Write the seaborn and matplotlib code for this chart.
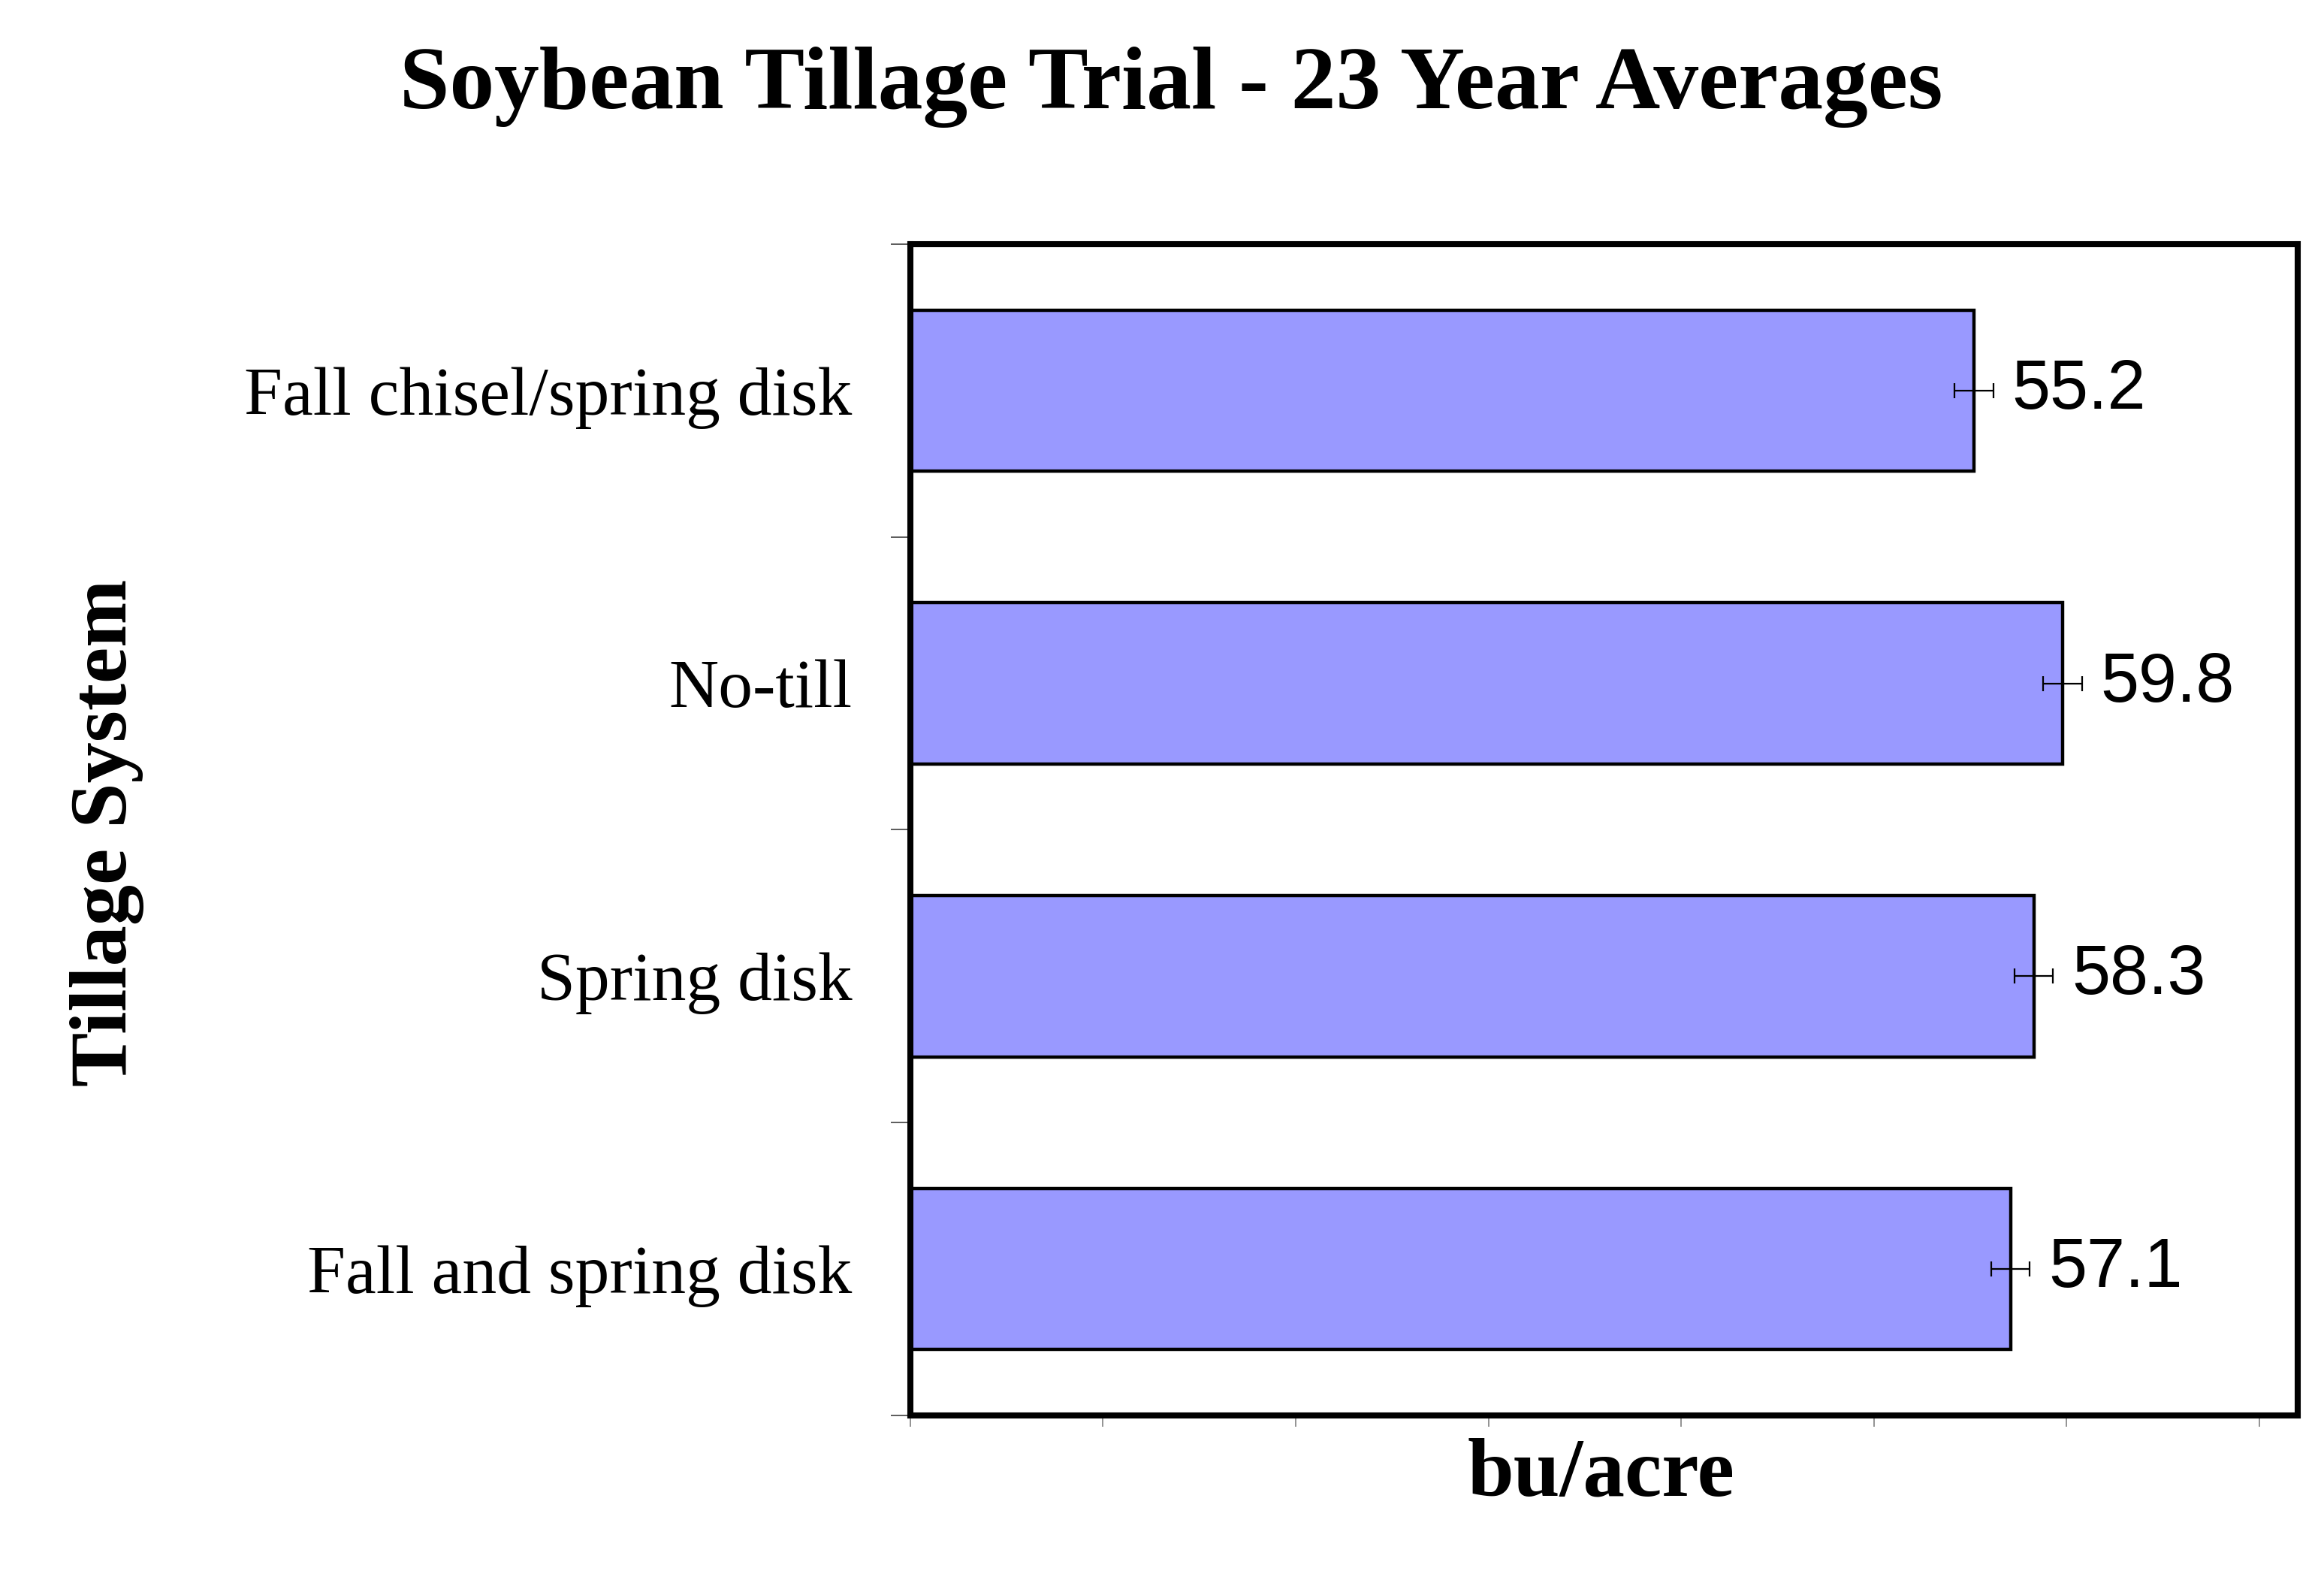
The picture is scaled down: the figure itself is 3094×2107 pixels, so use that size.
"""
Soybean tillage trial - horizontal bar chart of 23 year average yields.
"""

import numpy as np
import pandas as pd
import matplotlib
matplotlib.use('Agg')
import matplotlib.pyplot as plt
import seaborn as sns

# data
systems = ['Fall chisel/spring disk', 'No-till', 'Spring disk', 'Fall and spring disk']
yields = [55.2, 59.8, 58.3, 57.1]
errors = [1.0, 1.0, 1.0, 1.0]
x_ticks = [0, 10, 20, 30, 40, 50, 60, 70]

df = pd.DataFrame({'system': systems, 'yield': yields})

sns.set_style('white')
plt.rcParams['text.color'] = 'black'
plt.rcParams['ytick.labelcolor'] = 'black'
serif = ['Liberation Serif', 'DejaVu Serif']
sans = ['Liberation Sans', 'DejaVu Sans']

fig = plt.figure(figsize=(15.47, 10.535), dpi=200)
fig.subplots_adjust(left=0.3917, right=0.9887, top=0.8458, bottom=0.1058)
ax = fig.add_subplot(111)

sns.barplot(data=df, x='yield', y='system', order=systems, orient='h',
            color='#9999FF', saturation=1, width=0.55, edgecolor='black',
            linewidth=1.6, errorbar=None, ax=ax)

# error bars and value labels
ypos = np.arange(len(systems))
ax.errorbar(yields, ypos, xerr=errors, fmt='none', ecolor='black',
            elinewidth=0.8, capsize=3.6, capthick=0.8, zorder=5)
for y, v, e in zip(ypos, yields, errors):
    ax.annotate(f'{v:.1f}', xy=(v + e, y), xytext=(9, 0),
                textcoords='offset points', ha='left', va='center',
                fontsize=33, family=sans, color='black')

ax.set_xlim(0, 72)
ax.set_ylim(len(systems) - 0.5, -0.5)

# x ticks: grey, unlabeled
ax.set_xticks(x_ticks)
ax.set_xticklabels([])
ax.tick_params(axis='x', which='major', direction='out', length=5.4,
               width=0.6, color='#808080', bottom=True)

# y: labels at category centres, ticks at category boundaries
ax.set_yticks(ypos)
ax.set_yticklabels(systems, family=serif, fontsize=33, color='black')
ax.tick_params(axis='y', which='major', length=0, pad=28, left=True)
ax.set_yticks(np.arange(-0.5, len(systems)), minor=True)
ax.tick_params(axis='y', which='minor', direction='out', length=9.4,
               width=0.6, color='#404040', left=True)

ax.set_xlabel('')
ax.set_ylabel('')
for sp in ax.spines.values():
    sp.set_visible(True)
    sp.set_color('black')
    sp.set_linewidth(2.9)

fig.text(0.504, 0.945, 'Soybean Tillage Trial - 23 Year Averages',
         ha='center', va='center', fontsize=43, fontweight='bold',
         family=serif, color='black')
fig.text(0.046, 0.474, 'Tillage System', ha='center', va='center',
         rotation=90, fontsize=39, fontweight='bold', family=serif, color='black')
fig.text(0.689, 0.068, 'bu/acre', ha='center', va='center',
         fontsize=40, fontweight='bold', family=serif, color='black')

fig.savefig('out.png', dpi=200)
